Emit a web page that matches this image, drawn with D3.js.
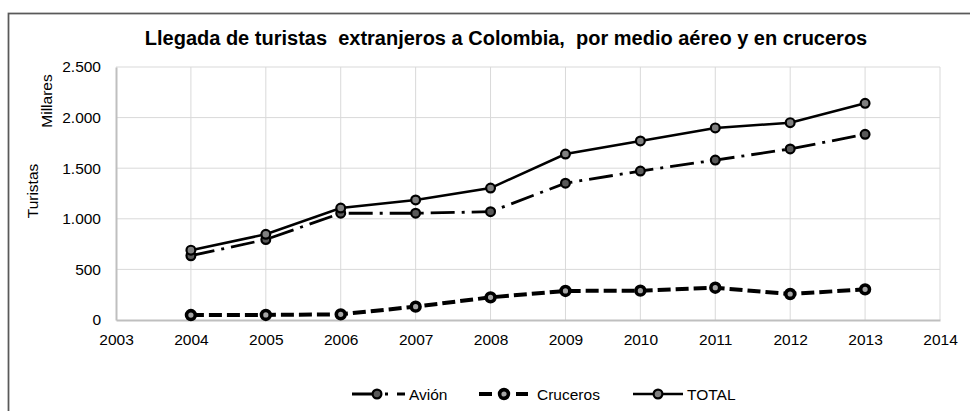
<!DOCTYPE html>
<html>
<head>
<meta charset="utf-8">
<script src="https://cdn.jsdelivr.net/npm/d3@7/dist/d3.min.js"></script>
<style>
  body { margin: 0; background: #fff; }
  text { font-family: "Liberation Sans", Arial, sans-serif; fill: #000; }
</style>
</head>
<body>
<script>
const WIDTH = 970;
const HEIGHT = 411;

// data (thousands of tourists)
var years = [2004, 2005, 2006, 2007, 2008, 2009, 2010, 2011, 2012, 2013];
var avion = [635, 795, 1055, 1055, 1070, 1352, 1472, 1580, 1690, 1835];
var cruceros = [49, 50, 56, 132, 224, 287, 290, 319, 257, 303];
var total = [690, 847, 1106, 1186, 1304, 1640, 1769, 1898, 1950, 2141];
var yTicks = [0, 500, 1000, 1500, 2000, 2500];
var xTicks = [2003, 2004, 2005, 2006, 2007, 2008, 2009, 2010, 2011, 2012, 2013, 2014];

var margin = { left: 116, top: 67, right: 940, bottom: 320 };

var svg = d3.select('body')
    .append('svg')
    .attr('width', WIDTH)
    .attr('height', HEIGHT);

svg.append('rect')
    .attr('width', WIDTH)
    .attr('height', HEIGHT)
    .attr('fill', '#fff');

// chart frame (runs past the right and bottom edges)
svg.append('rect')
    .attr('x', 8.5)
    .attr('y', 13.5)
    .attr('width', WIDTH + 20)
    .attr('height', HEIGHT + 20)
    .attr('fill', 'none')
    .attr('stroke', '#595959')
    .attr('stroke-width', 1.75);

var x = d3.scaleLinear().domain([2003, 2014]).range([margin.left, margin.right]);
var y = d3.scaleLinear().domain([0, 2500]).range([margin.bottom, margin.top]);

var loc = d3.formatLocale({ decimal: ',', thousands: '.', grouping: [3], currency: ['$', ''] });
var fmt = loc.format(',d');

// gridlines
svg.append('g').selectAll('line')
    .data(yTicks.slice(1))
    .join('line')
    .attr('x1', margin.left).attr('x2', margin.right)
    .attr('y1', d => y(d)).attr('y2', d => y(d))
    .attr('stroke', '#d9d9d9').attr('stroke-width', 1);

svg.append('g').selectAll('line')
    .data(xTicks.slice(1))
    .join('line')
    .attr('x1', d => x(d)).attr('x2', d => x(d))
    .attr('y1', margin.top).attr('y2', margin.bottom)
    .attr('stroke', '#d9d9d9').attr('stroke-width', 1);

// axes
var yAxis = svg.append('g')
    .attr('transform', 'translate(' + margin.left + ',0)')
    .call(d3.axisLeft(y).tickValues(yTicks).tickFormat(fmt).tickSize(0).tickPadding(15));
var xAxis = svg.append('g')
    .attr('transform', 'translate(0,' + margin.bottom + ')')
    .call(d3.axisBottom(x).tickValues(xTicks).tickFormat(d3.format('d')).tickSize(0).tickPadding(14));

[yAxis, xAxis].forEach(function (g) {
    g.select('.domain').attr('stroke', '#bfbfbf').attr('stroke-width', 2);
    g.selectAll('text').style('font-size', '15.5px').attr('fill', '#000')
        .style('font-family', '"Liberation Sans", Arial, sans-serif');
});

// title and axis titles
svg.append('text')
    .attr('x', 506).attr('y', 45)
    .attr('text-anchor', 'middle')
    .attr('xml:space', 'preserve')
    .style('font-size', '20px').style('font-weight', 'bold')
    .text('Llegada de turistas  extranjeros a Colombia,  por medio aéreo y en cruceros');

svg.append('text')
    .attr('transform', 'translate(52,101) rotate(-90)')
    .attr('text-anchor', 'middle')
    .style('font-size', '15.5px')
    .text('Millares');

svg.append('text')
    .attr('transform', 'translate(38,191) rotate(-90)')
    .attr('text-anchor', 'middle')
    .style('font-size', '15.5px')
    .text('Turistas');

// series
var series = [
    { name: 'Avión', values: avion, dash: '24,7,3,7', legDash: '20,13,3,9,8', width: 2.8, fill: '#595959', mStroke: 2.2 },
    { name: 'Cruceros', values: cruceros, dash: '13,5', legDash: '13,24,13', width: 4, fill: '#a6a6a6', mStroke: 3.6 },
    { name: 'TOTAL', values: total, dash: null, legDash: null, width: 2.5, fill: '#808080', mStroke: 2.2 }
];

var line = d3.line()
    .x((d, i) => x(years[i]))
    .y(d => y(d));

series.forEach(function (s) {
    var g = svg.append('g');
    g.append('path')
        .datum(s.values)
        .attr('d', line)
        .attr('fill', 'none')
        .attr('stroke', '#000')
        .attr('stroke-width', s.width)
        .attr('stroke-dasharray', s.dash);
    g.selectAll('circle')
        .data(s.values)
        .join('circle')
        .attr('cx', (d, i) => x(years[i]))
        .attr('cy', d => y(d))
        .attr('r', 4.4)
        .attr('fill', s.fill)
        .attr('stroke', '#000')
        .attr('stroke-width', s.mStroke);
});

// legend
var legendX = [352, 479, 633];
var legendLen = [53, 49, 50];
var legendText = [57, 58, 54];
var legendY = 394;
series.forEach(function (s, i) {
    var g = svg.append('g').attr('transform', 'translate(' + legendX[i] + ',' + legendY + ')');
    g.append('line')
        .attr('x1', 0).attr('x2', legendLen[i])
        .attr('stroke', '#000')
        .attr('stroke-width', s.width)
        .attr('stroke-dasharray', s.legDash);
    g.append('circle')
        .attr('cx', 25).attr('r', 4.4)
        .attr('fill', s.fill)
        .attr('stroke', '#000')
        .attr('stroke-width', s.mStroke);
    g.append('text')
        .attr('x', legendText[i])
        .attr('y', 5.5)
        .style('font-size', '15.5px')
        .text(s.name);
});
</script>
</body>
</html>
